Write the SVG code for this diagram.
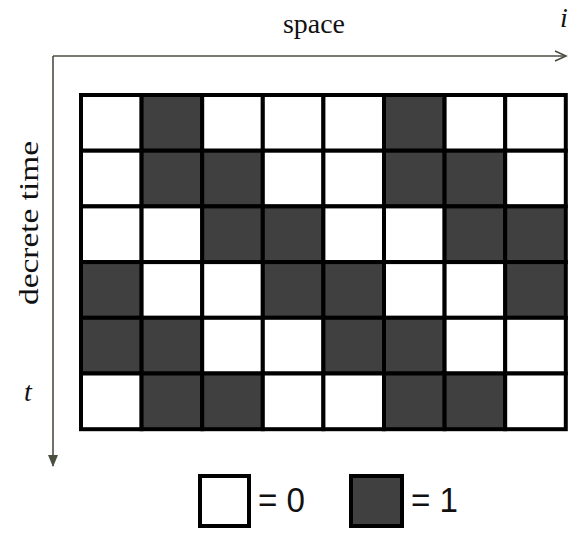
<svg xmlns="http://www.w3.org/2000/svg" width="577" height="533" viewBox="0 0 577 533">
<style>
.c{stroke:#000;stroke-width:4}
.w{fill:#fff}
.d{fill:#404040}
.ax{stroke:#4a4f40;stroke-width:1.6;fill:none}
.lbl{font-family:"Liberation Serif",serif;font-size:28px;fill:#111}
.leg{font-family:"Liberation Sans","DejaVu Sans",sans-serif;font-size:35px;fill:#111}
</style>
<defs>
<marker id="chev" markerWidth="14" markerHeight="12" refX="12" refY="6" orient="auto" markerUnits="userSpaceOnUse">
<path d="M1,1 L12,6 L1,11" fill="none" stroke="#4a4f40" stroke-width="1.6"/>
</marker>
<marker id="tri" markerWidth="12" markerHeight="14" refX="6" refY="12" orient="0" markerUnits="userSpaceOnUse">
<path d="M1,1 L11,1 L6,13 Z" fill="#4a4f40"/>
</marker>
</defs>
<rect width="577" height="533" fill="#fff"/>
<g id="connectors">
<path class="ax" d="M53,56 L566,56" marker-end="url(#chev)"/>
<path class="ax" d="M53,56 L53,466" marker-end="url(#tri)"/>
</g>
<g id="labels">
<text class="lbl" x="314" y="33" text-anchor="middle" textLength="62" lengthAdjust="spacingAndGlyphs">space</text>
<text class="lbl" x="564" y="27" font-size="31" font-style="italic" text-anchor="middle">i</text>
<text class="lbl" x="0" y="0" text-anchor="middle" textLength="164" lengthAdjust="spacingAndGlyphs" transform="translate(38,223) rotate(-90)">decrete time</text>
<text class="lbl" x="28" y="401" font-size="31" font-style="italic" text-anchor="middle">t</text>
</g>
<g id="grid">
<g id="r0">
<rect class="c w" x="81" y="95" width="60.6" height="55.7"/>
<rect class="c d" x="141.6" y="95" width="60.6" height="55.7"/>
<rect class="c w" x="202.2" y="95" width="60.6" height="55.7"/>
<rect class="c w" x="262.8" y="95" width="60.6" height="55.7"/>
<rect class="c w" x="323.4" y="95" width="60.6" height="55.7"/>
<rect class="c d" x="384" y="95" width="60.6" height="55.7"/>
<rect class="c w" x="444.6" y="95" width="60.6" height="55.7"/>
<rect class="c w" x="505.2" y="95" width="60.6" height="55.7"/>
</g>
<g id="r1">
<rect class="c w" x="81" y="150.7" width="60.6" height="55.7"/>
<rect class="c d" x="141.6" y="150.7" width="60.6" height="55.7"/>
<rect class="c d" x="202.2" y="150.7" width="60.6" height="55.7"/>
<rect class="c w" x="262.8" y="150.7" width="60.6" height="55.7"/>
<rect class="c w" x="323.4" y="150.7" width="60.6" height="55.7"/>
<rect class="c d" x="384" y="150.7" width="60.6" height="55.7"/>
<rect class="c d" x="444.6" y="150.7" width="60.6" height="55.7"/>
<rect class="c w" x="505.2" y="150.7" width="60.6" height="55.7"/>
</g>
<g id="r2">
<rect class="c w" x="81" y="206.4" width="60.6" height="55.7"/>
<rect class="c w" x="141.6" y="206.4" width="60.6" height="55.7"/>
<rect class="c d" x="202.2" y="206.4" width="60.6" height="55.7"/>
<rect class="c d" x="262.8" y="206.4" width="60.6" height="55.7"/>
<rect class="c w" x="323.4" y="206.4" width="60.6" height="55.7"/>
<rect class="c w" x="384" y="206.4" width="60.6" height="55.7"/>
<rect class="c d" x="444.6" y="206.4" width="60.6" height="55.7"/>
<rect class="c d" x="505.2" y="206.4" width="60.6" height="55.7"/>
</g>
<g id="r3">
<rect class="c d" x="81" y="262.1" width="60.6" height="55.7"/>
<rect class="c w" x="141.6" y="262.1" width="60.6" height="55.7"/>
<rect class="c w" x="202.2" y="262.1" width="60.6" height="55.7"/>
<rect class="c d" x="262.8" y="262.1" width="60.6" height="55.7"/>
<rect class="c d" x="323.4" y="262.1" width="60.6" height="55.7"/>
<rect class="c w" x="384" y="262.1" width="60.6" height="55.7"/>
<rect class="c w" x="444.6" y="262.1" width="60.6" height="55.7"/>
<rect class="c d" x="505.2" y="262.1" width="60.6" height="55.7"/>
</g>
<g id="r4">
<rect class="c d" x="81" y="317.8" width="60.6" height="55.7"/>
<rect class="c d" x="141.6" y="317.8" width="60.6" height="55.7"/>
<rect class="c w" x="202.2" y="317.8" width="60.6" height="55.7"/>
<rect class="c w" x="262.8" y="317.8" width="60.6" height="55.7"/>
<rect class="c d" x="323.4" y="317.8" width="60.6" height="55.7"/>
<rect class="c d" x="384" y="317.8" width="60.6" height="55.7"/>
<rect class="c w" x="444.6" y="317.8" width="60.6" height="55.7"/>
<rect class="c w" x="505.2" y="317.8" width="60.6" height="55.7"/>
</g>
<g id="r5">
<rect class="c w" x="81" y="373.5" width="60.6" height="55.7"/>
<rect class="c d" x="141.6" y="373.5" width="60.6" height="55.7"/>
<rect class="c d" x="202.2" y="373.5" width="60.6" height="55.7"/>
<rect class="c w" x="262.8" y="373.5" width="60.6" height="55.7"/>
<rect class="c w" x="323.4" y="373.5" width="60.6" height="55.7"/>
<rect class="c d" x="384" y="373.5" width="60.6" height="55.7"/>
<rect class="c d" x="444.6" y="373.5" width="60.6" height="55.7"/>
<rect class="c w" x="505.2" y="373.5" width="60.6" height="55.7"/>
</g>
</g>
<g id="legend0">
<rect class="c w" x="200" y="476" width="49" height="50"/>
<text class="leg" x="258" y="512" textLength="47" lengthAdjust="spacingAndGlyphs">= 0</text>
</g>
<g id="legend1">
<rect class="c d" x="351" y="476" width="51" height="50"/>
<text class="leg" x="411" y="512" textLength="47" lengthAdjust="spacingAndGlyphs">= 1</text>
</g>
</svg>
